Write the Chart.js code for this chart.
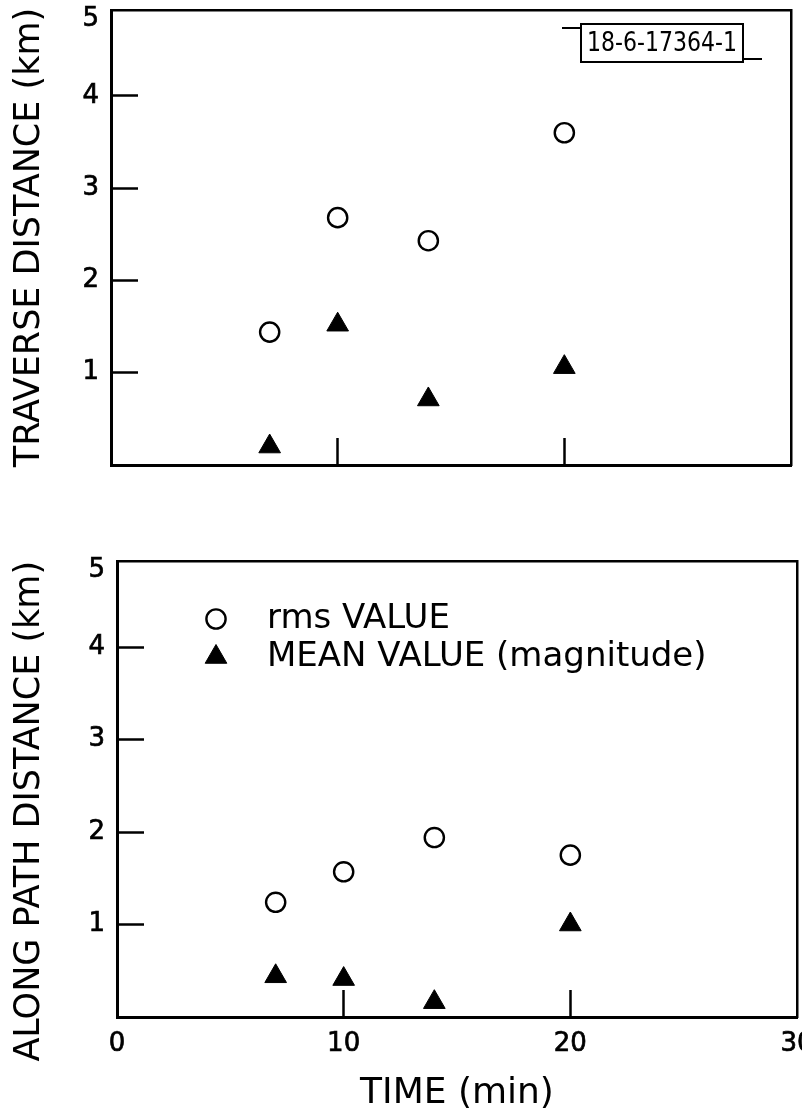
<!DOCTYPE html>
<html><head><meta charset="utf-8">
<script src="https://cdn.jsdelivr.net/npm/chart.js@4.4.1/dist/chart.umd.min.js"></script>
<style>
html,body{margin:0;padding:0;background:#fff;}
#wrap{position:relative;width:802px;height:1116px;overflow:hidden;background:#fff;}
#c1{position:absolute;left:0;top:0;}
#c2{position:absolute;left:0;top:480px;}
</style></head><body>
<div id="wrap"><canvas id="c1" width="802" height="480"></canvas><canvas id="c2" width="802" height="636"></canvas></div>
<script>
// ---- data ----
const TIME_MIN = [7, 10, 14, 20];
const TRAVERSE_RMS = [1.44, 2.68, 2.43, 3.60];
const TRAVERSE_MEAN = [0.20, 1.52, 0.71, 1.06];
const ALONG_RMS = [1.24, 1.57, 1.94, 1.75];
const ALONG_MEAN = [0.44, 0.41, 0.16, 1.00];
const X_TICKS = [0, 10, 20, 30];
const X_TICK_LABELS = ['0', '10', '20', '30'];
const X_MARKS = [10, 20];
const Y_TICKS = [1, 2, 3, 4, 4.83];
const Y_TICK_LABELS = ['1', '2', '3', '4', '5'];
const Y_MARKS = [1, 2, 3, 4];
const Y_MAX = 4.93;
const SERIES_LABELS = ['rms VALUE', 'MEAN VALUE (magnitude)'];
const Y_TITLES = ['TRAVERSE DISTANCE (km)', 'ALONG PATH DISTANCE (km)    '];
const X_TITLE = 'TIME (min)';
const STAMP = '18-6-17364-1';

const FONT = '"DejaVu Sans", sans-serif';
const BLACK = '#000';
const CLEAR = 'rgba(0,0,0,0)';

const stampPlugin = {
  id: 'stamp',
  afterDraw(chart, args, o) {
    if (!o || !o.text) return;
    const ctx = chart.ctx;
    ctx.save();
    ctx.strokeStyle = BLACK; ctx.lineWidth = 2;
    ctx.strokeRect(o.x, o.y, o.w, o.h);
    ctx.beginPath();
    ctx.moveTo(o.x - 19, o.y + 4); ctx.lineTo(o.x, o.y + 4);
    ctx.moveTo(o.x + o.w, o.y + o.h - 3); ctx.lineTo(o.x + o.w + 19, o.y + o.h - 3);
    ctx.stroke();
    ctx.fillStyle = BLACK;
    ctx.font = '27px "Liberation Sans Narrow", "DejaVu Sans Condensed", "DejaVu Sans", sans-serif';
    ctx.textAlign = 'center'; ctx.textBaseline = 'middle';
    ctx.fillText(o.text, o.x + o.w / 2, o.y + o.h / 2 + 1, o.w - 12);
    ctx.restore();
  }
};

const legendPlugin = {
  id: 'insideLegend',
  afterDatasetsDraw(chart, args, o) {
    if (!o || !o.show) return;
    const ctx = chart.ctx, a = chart.chartArea;
    chart.data.datasets.forEach((ds, i) => {
      const x = a.left + o.markerDX, y = a.top + o.firstDY + i * o.rowGap;
      ctx.save();
      ctx.fillStyle = ds.backgroundColor; ctx.strokeStyle = ds.borderColor; ctx.lineWidth = ds.borderWidth;
      Chart.helpers.drawPoint(ctx, {pointStyle: ds.pointStyle, radius: ds.pointRadius, borderWidth: ds.borderWidth, rotation: 0}, x, y);
      ctx.fillStyle = BLACK;
      ctx.font = o.fontSize + 'px ' + FONT;
      ctx.textAlign = 'left'; ctx.textBaseline = 'middle';
      ctx.fillText(ds.label, a.left + o.textDX, y);
      ctx.restore();
    });
  }
};

function makeChart(canvas, cfg) {
  const H = canvas.height, W = canvas.width, A = cfg.area;
  const pts = arr => TIME_MIN.map((x, i) => ({x: x, y: arr[i]}));
  return new Chart(canvas, {
    type: 'scatter',
    data: {datasets: [
      {label: SERIES_LABELS[0], data: pts(cfg.rms), pointStyle: 'circle', pointRadius: 9.6, pointHoverRadius: 9.6,
       borderWidth: 2.4, borderColor: BLACK, backgroundColor: '#fff', showLine: false, clip: false},
      {label: SERIES_LABELS[1], data: pts(cfg.mean), pointStyle: 'triangle', pointRadius: 12.5, pointHoverRadius: 12.5,
       borderWidth: 1, borderColor: BLACK, backgroundColor: BLACK, showLine: false, clip: false}
    ]},
    options: {
      responsive: false, animation: false, devicePixelRatio: 1,
      layout: {autoPadding: false, padding: {left: 0, top: A.top, right: W - A.right, bottom: 0}},
      plugins: {
        legend: {display: false}, tooltip: {enabled: false},
        stamp: cfg.stamp || {},
        insideLegend: cfg.legend || {}
      },
      scales: {
        x: {
          type: 'linear', position: 'bottom', min: 0, max: 30,
          afterBuildTicks: s => { s.ticks = X_TICKS.map(v => ({value: v})); },
          ticks: {display: cfg.xLabels, autoSkip: false, maxRotation: 0, minRotation: 0, padding: 39, color: BLACK,
                  textStrokeColor: BLACK, textStrokeWidth: 0.7,
                  font: {family: FONT, size: 26}, callback: (v, i) => X_TICK_LABELS[i]},
          grid: {drawOnChartArea: false, drawTicks: true, tickLength: -27, tickWidth: 2.5,
                 tickColor: c => (c.tick && X_MARKS.includes(c.tick.value)) ? BLACK : CLEAR},
          border: {display: true, color: BLACK, width: 3},
          title: {display: cfg.xTitle, text: X_TITLE, color: BLACK, font: {family: FONT, size: 36}, padding: {top: 0, bottom: 1}},
          afterFit: s => { s.height = H - A.bottom; s.paddingLeft = 0; s.paddingRight = 0; s.paddingTop = 0; s.paddingBottom = 0; }
        },
        y: {
          type: 'linear', position: 'left', min: 0, max: Y_MAX,
          afterBuildTicks: s => { s.ticks = Y_TICKS.map(v => ({value: v})); },
          ticks: {autoSkip: false, padding: 39, color: BLACK, textStrokeColor: BLACK, textStrokeWidth: 0.7,
                  font: {family: FONT, size: 26}, callback: (v, i) => Y_TICK_LABELS[i]},
          grid: {drawOnChartArea: false, drawTicks: true, tickLength: -27, tickWidth: 2.5,
                 tickColor: c => (c.tick && Y_MARKS.includes(c.tick.value)) ? BLACK : CLEAR},
          border: {display: true, color: BLACK, width: 3},
          title: {display: true, text: cfg.yTitle, color: BLACK, font: {family: FONT, size: 35}, padding: {top: 9, bottom: 0}},
          afterFit: s => { s.width = A.left; s.paddingTop = 0; s.paddingBottom = 0; s.paddingLeft = 0; s.paddingRight = 0; }
        },
        xTop: {
          type: 'linear', position: 'top', min: 0, max: 30,
          ticks: {display: false}, grid: {display: true, drawOnChartArea: false, drawTicks: false},
          border: {display: true, color: BLACK, width: 2.5},
          afterFit: s => { s.height = 0; s.paddingLeft = 0; s.paddingRight = 0; s.paddingTop = 0; s.paddingBottom = 0; }
        },
        yRight: {
          type: 'linear', position: 'right', min: 0, max: Y_MAX,
          ticks: {display: false}, grid: {display: true, drawOnChartArea: false, drawTicks: false},
          border: {display: true, color: BLACK, width: 2.5},
          afterFit: s => { s.width = 0; s.paddingTop = 0; s.paddingBottom = 0; s.paddingLeft = 0; s.paddingRight = 0; }
        }
      }
    },
    plugins: [stampPlugin, legendPlugin]
  });
}

makeChart(document.getElementById('c1'), {
  area: {left: 111, right: 791, top: 10, bottom: 465},
  rms: TRAVERSE_RMS, mean: TRAVERSE_MEAN,
  xLabels: false, xTitle: false, yTitle: Y_TITLES[0],
  stamp: {text: STAMP, x: 581, y: 24, w: 162, h: 38}
});
makeChart(document.getElementById('c2'), {
  area: {left: 117, right: 797, top: 81, bottom: 537},
  rms: ALONG_RMS, mean: ALONG_MEAN,
  xLabels: true, xTitle: true, yTitle: Y_TITLES[1],
  legend: {show: true, markerDX: 99, firstDY: 58, rowGap: 38, textDX: 150, fontSize: 34}
});
</script>
</body></html>
